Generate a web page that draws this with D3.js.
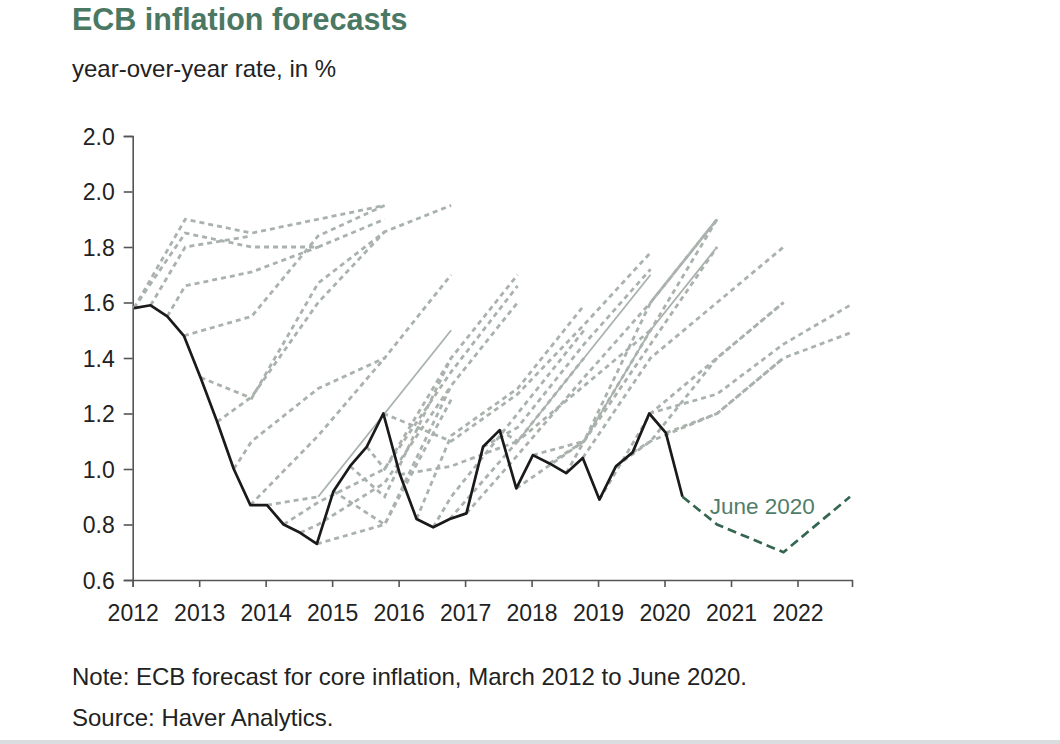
<!DOCTYPE html>
<html>
<head>
<meta charset="utf-8">
<script src="https://cdn.jsdelivr.net/npm/d3@7"></script>
<style>
  html, body { margin: 0; padding: 0; background: #fff; }
  svg { display: block; font-family: "Liberation Sans", Arial, Helvetica, sans-serif; }
</style>
</head>
<body>
<svg id="chart" width="1060" height="744"></svg>
<script>
// core inflation, one value per ECB projection round (Mar, Jun, Sep, Dec)
const firstYear = 2012;
const coreActual = [
  1.58, 1.59, 1.55, 1.48,
  1.33, 1.17, 1.00, 0.87,
  0.87, 0.80, 0.77, 0.73,
  0.92, 1.01, 1.08, 1.20,
  0.98, 0.82, 0.79, 0.82,
  0.84, 1.08, 1.14, 0.93,
  1.05, 1.02, 0.985, 1.04,
  0.89, 1.01, 1.06, 1.20,
  1.13, 0.90
];

// each forecast line: projection round (index into coreActual),
// first forecast year, then annual forecasts
const vintageRound = [0, 0, 1, 2, 3, 4, 5, 6, 7, 8, 9, 10, 11, 12, 13, 14, 15,
  16, 17, 18, 19, 20, 21, 22, 23, 24, 25, 26, 27, 28, 29, 30, 31, 32];
const vintageFirstYear = [2012, 2012, 2012, 2012, 2013, 2013, 2013, 2013, 2014,
  2014, 2014, 2014, 2015, 2015, 2015, 2015, 2016, 2016, 2016, 2016, 2017,
  2017, 2017, 2017, 2018, 2018, 2018, 2018, 2019, 2019, 2019, 2019, 2020, 2020];
const vintageForecasts = [
  [1.90, 1.85, 1.90, 1.95],
  [1.85, 1.80, 1.80, 1.90],
  [1.80, 1.84],
  [1.66, 1.71, 1.80],
  [1.55, 1.84, 1.95],
  [1.255, 1.67, 1.855, 1.95],
  [1.26, 1.60, 1.855],
  [1.10, 1.29, 1.40, 1.70],
  [1.12, 1.40],
  [0.90, 1.20, 1.50],
  [0.88, 1.00, 1.40],
  [0.80, 0.95, 1.30],
  [0.80, 1.25],
  [0.80, 1.30, 1.60],
  [0.90, 1.40, 1.70],
  [1.00, 1.35, 1.66],
  [1.10, 1.27, 1.52, 1.78],
  [1.01, 1.10, 1.40],
  [1.12, 1.29, 1.59],
  [0.90, 1.20, 1.50],
  [1.10, 1.40, 1.70],
  [1.05, 1.33, 1.60, 1.90],
  [1.15, 1.45, 1.72],
  [1.10, 1.30, 1.50],
  [1.10, 1.50, 1.80],
  [1.10, 1.50, 1.90],
  [1.10, 1.60, 1.90],
  [1.10, 1.45, 1.80],
  [1.40, 1.60, 1.80],
  [1.20, 1.40, 1.60],
  [1.10, 1.40, 1.60],
  [1.10, 1.20, 1.40],
  [1.27, 1.45, 1.59],
  [1.20, 1.40, 1.49]
];

// latest round, June 2020
const juneRound = 33;
const juneFirstYear = 2020;
const juneForecasts = [0.80, 0.70, 0.90];

const xTicks = [2012, 2013, 2014, 2015, 2016, 2017, 2018, 2019, 2020, 2021, 2022];
const yTicks = [0.6, 0.8, 1.0, 1.2, 1.4, 1.6, 1.8, 2.0, 2.2];
const yTickLabels = ["0.6", "0.8", "1.0", "1.2", "1.4", "1.6", "1.8", "2.0", "2.0"];

const svg = d3.select("#chart");

const x = d3.scaleLinear().domain([2012, 2022.82]).range([132.7, 852]);
const y = d3.scaleLinear().domain([0.6, 2.2]).range([580, 136]);

const roundDate = i => firstYear + 0.02 + i / 4;
const yearDate = yr => yr + 0.79;

const line = d3.line()
  .x(d => x(d[0]))
  .y(d => y(d[1]));

const buildPath = (round, year0, values) => {
  const pts = [[roundDate(round), coreActual[round]]];
  values.forEach((v, i) => pts.push([yearDate(year0 + i), v]));
  return pts;
};

// titles
svg.append("text")
  .attr("x", 72).attr("y", 30)
  .attr("font-size", 30.5).attr("font-weight", "bold")
  .attr("fill", "#4a7863")
  .text("ECB inflation forecasts");

svg.append("text")
  .attr("x", 72).attr("y", 77)
  .attr("font-size", 24)
  .attr("fill", "#222")
  .text("year-over-year rate, in %");

// axes
const axisColor = "#555";

const yAxis = svg.append("g")
  .attr("transform", `translate(${x(2012)},0)`)
  .call(d3.axisLeft(y).tickValues(yTicks).tickSize(9).tickPadding(9)
    .tickFormat((d, i) => yTickLabels[i]));

const xAxis = svg.append("g")
  .attr("transform", `translate(0,${y(0.6)})`)
  .call(d3.axisBottom(x).tickValues(xTicks).tickSize(7).tickPadding(18)
    .tickFormat(d3.format("d")));

[yAxis, xAxis].forEach(g => {
  g.select(".domain").attr("stroke", axisColor).attr("stroke-width", 1.6);
  g.selectAll(".tick line").attr("stroke", axisColor).attr("stroke-width", 1.6);
  g.selectAll(".tick text")
    .attr("fill", "#222")
    .attr("font-size", 23)
    .attr("font-family", "Liberation Sans, Arial, sans-serif");
});
yAxis.selectAll(".tick text").attr("dy", "0.36em");

// forecast lines, grey dashed; a few are drawn solid after their first leg
const grey = "#a9b2ac";
const solidRounds = new Set([8, 19, 23]);

const fan = svg.append("g").attr("fill", "none");

vintageForecasts.forEach((vals, i) => {
  const pts = buildPath(vintageRound[i], vintageFirstYear[i], vals);
  if (solidRounds.has(vintageRound[i])) {
    fan.append("path")
      .attr("d", line(pts.slice(0, 2)))
      .attr("stroke", grey)
      .attr("stroke-width", 2.8)
      .attr("stroke-dasharray", "5,4");
    fan.append("path")
      .attr("d", line(pts.slice(1)))
      .attr("stroke", grey)
      .attr("stroke-width", 1.8);
  } else {
    fan.append("path")
      .attr("d", line(pts))
      .attr("stroke", grey)
      .attr("stroke-width", 2.8)
      .attr("stroke-dasharray", "5,4");
  }
});

// actual core inflation
svg.append("path")
  .datum(coreActual.map((v, i) => [roundDate(i), v]))
  .attr("d", line)
  .attr("fill", "none")
  .attr("stroke", "#1a1a1a")
  .attr("stroke-width", 2.7)
  .attr("stroke-linejoin", "round");

// June 2020 projection
svg.append("path")
  .datum(buildPath(juneRound, juneFirstYear, juneForecasts))
  .attr("d", line)
  .attr("fill", "none")
  .attr("stroke", "#356650")
  .attr("stroke-width", 2.7)
  .attr("stroke-dasharray", "9,5");

svg.append("text")
  .attr("x", x(2020.68))
  .attr("y", y(0.838))
  .attr("font-size", 22.5)
  .attr("fill", "#4f7d6a")
  .text("June 2020");

// notes
svg.append("text")
  .attr("x", 72).attr("y", 685)
  .attr("font-size", 24)
  .attr("fill", "#222")
  .text("Note: ECB forecast for core inflation, March 2012 to June 2020.");

svg.append("text")
  .attr("x", 72).attr("y", 726)
  .attr("font-size", 24)
  .attr("fill", "#222")
  .text("Source: Haver Analytics.");

svg.append("rect")
  .attr("x", 0).attr("y", 740)
  .attr("width", 1060).attr("height", 4)
  .attr("fill", "#d9dde0");
</script>
</body>
</html>
